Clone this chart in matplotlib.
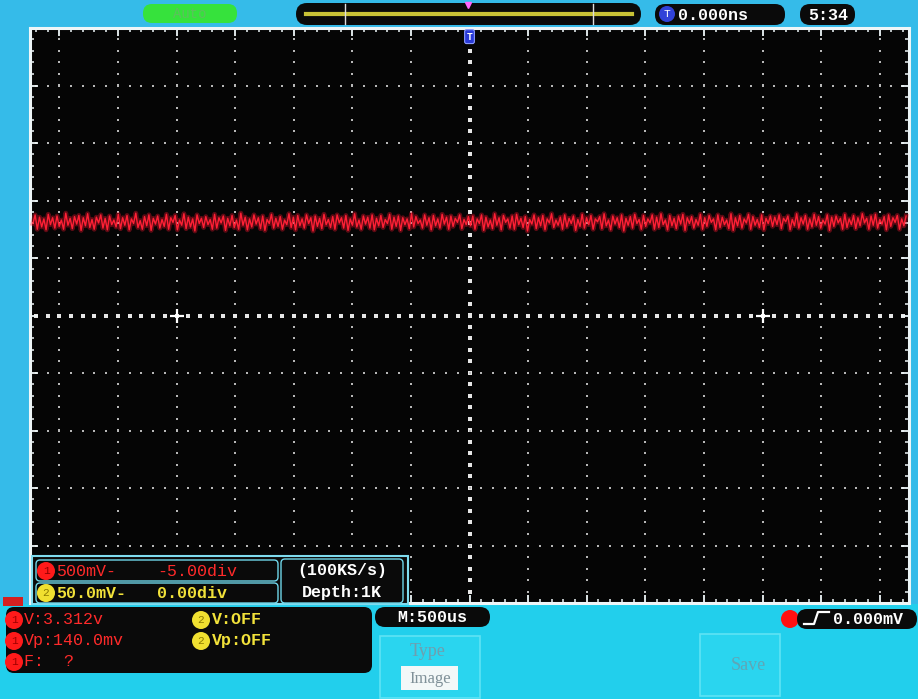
import matplotlib
matplotlib.use('Agg')
import matplotlib.pyplot as plt
from matplotlib.patches import FancyBboxPatch, Rectangle, Circle
import numpy as np

# CH1 trace, hundredths of a division above screen centre, read left to right
ch1_trace = [
    160, 175, 150, 171, 154, 168, 149, 176, 158, 170, 152, 173, 155, 166, 150, 178, 157, 169, 151, 172,
    159, 174, 148, 170, 156, 177, 153, 167, 150, 171, 161, 175, 152, 169, 149, 173, 158, 166, 154, 176,
    151, 170, 157, 174, 149, 168, 160, 178, 153, 165, 150, 172, 156, 175, 148, 169, 159, 173, 152, 167,
    155, 176, 150, 170, 162, 174, 149, 166, 157, 177, 151, 171, 154, 168, 147, 175, 160, 169, 153, 172,
    158, 167, 150, 176, 152, 170, 161, 173, 148, 169, 156, 174, 153, 166, 150, 178, 157, 171, 149, 168,
    154, 175, 159, 170, 151, 173, 148, 167, 160, 176, 152, 169, 155, 172, 150, 166, 158, 177, 153, 171,
    149, 174, 156, 168, 152, 175, 160, 170, 147, 173, 155, 169, 151, 176, 158, 167, 153, 172, 150, 175,
    161, 170, 152, 174, 148, 168, 157, 177, 154, 166, 150, 173, 159, 171, 152, 175, 149, 169, 156, 174,
    153, 167, 160, 176, 150, 171, 155, 173, 148, 170, 158, 168, 151, 177, 154, 172, 160, 166, 152, 175,
    157, 170, 149, 174, 156, 168, 152, 176, 159, 171, 150, 173, 155, 169, 162, 175, 151, 167, 158, 172,
    156, 173, 150, 168, 160, 175, 148, 171, 154, 166, 151, 177, 157, 170, 149, 174, 162, 168, 152, 173,
    150, 176, 158, 169, 153, 172, 147, 167, 159, 175, 151, 170, 156, 174, 149, 168, 161, 177, 153, 166,
    157, 171, 150, 175, 154, 169, 160, 173, 148, 167, 155, 176, 152, 170, 158, 174, 150, 168, 163, 172,
    151, 177, 156, 166, 149, 173, 159, 170, 153, 175, 147, 169, 157, 172, 152, 176, 160, 167, 150, 174,
    155, 168, 161, 175, 150, 171, 153, 177, 158, 166, 149, 174, 156, 169, 151, 173, 159, 176, 148, 170,
    160, 172, 152, 167, 157, 176, 150, 170, 155, 174, 162, 168, 149, 175, 153, 171, 158, 166, 151, 177,
    148, 170, 156, 174, 152, 168, 161, 176, 150, 172, 157, 167, 153, 175, 149, 169, 160, 173, 155, 171,
    158, 175, 151, 169, 163, 173, 149, 167, 156, 177, 152, 170, 159, 174, 150, 168, 154, 176, 157, 172,
    152, 166, 159, 175, 148, 171, 155, 173, 161, 169, 150, 176, 153, 168, 158, 174, 151, 170, 156, 177,
    161, 169, 150, 173, 157, 176, 152, 167, 159, 172, 149, 175, 155, 170, 162, 174, 150, 168, 156, 173,
]

h_half = 7.5          # screen is 15 divisions wide
v_half = 5            # and 10 divisions tall
markers_x = [-5, 5]   # the two "+" marks on the centre line

mode = 'Auto'
trig_time = '0.000ns'
clock = '5:34'
ch1_scale, ch1_offset = '500mV-', '-5.00div'
ch2_scale, ch2_offset = '50.0mV-', '0.00div'
sample_rate = '(100KS/s)'
depth = 'Depth:1K'
ch1_meas = ['V:3.312v', 'Vp:140.0mv', 'F:  ?']
ch2_meas = ['V:OFF', 'Vp:OFF']
timebase = 'M:500us'
trig_level = '0.000mV'

W, H = 918, 699
mono = 'Liberation Mono'
red = '#ff2a2a'
yel = '#f2e23a'

fig = plt.figure(figsize=(W / 100, H / 100), dpi=100)
fig.patch.set_facecolor('#35bbe9')

# background layer in pixel coords
bg = fig.add_axes([0, 0, 1, 1], zorder=0)
bg.set_xlim(0, W); bg.set_ylim(H, 0); bg.axis('off')
bg.add_patch(Rectangle((0, 604), W, H - 604, fc='#22cfec', ec='none'))

# scope screen
L, R, T, B = 30, 909, 28, 603
ax = fig.add_axes([L / W, 1 - B / H, (R - L) / W, (B - T) / H], zorder=2)
ax.set_facecolor('#050505')
ax.set_xlim(-h_half, h_half)
ax.set_ylim(-v_half, v_half)
for s in ax.spines.values():
    s.set_color('#eef6f8')
    s.set_linewidth(2.2)
ax.set_xticks(np.arange(-7, 8))
ax.set_xticks(np.arange(-7.4, 7.41, 0.2), minor=True)
ax.set_yticks(np.arange(-4, 5))
ax.set_yticks(np.arange(-4.8, 4.81, 0.2), minor=True)
ax.tick_params(which='both', direction='in', top=True, right=True, bottom=True, left=True,
               labelbottom=False, labelleft=False, color='#eef6f8')
ax.tick_params(which='major', length=6, width=1.3)
ax.tick_params(which='minor', length=3, width=1.1)

# dotted graticule
dot_pos_x = np.arange(-7.4, 7.41, 0.2)
dot_pos_y = np.arange(-4.8, 4.81, 0.2)
for k in range(-7, 8):
    big = k == 0
    ax.scatter(np.full(dot_pos_y.size, k), dot_pos_y, s=7 if big else 2, marker='s',
               color='#e6e6e6' if big else '#b8b8b8', lw=0, zorder=1)
for k in range(-4, 5):
    big = k == 0
    ax.scatter(dot_pos_x, np.full(dot_pos_x.size, k), s=7 if big else 2, marker='s',
               color='#e6e6e6' if big else '#b8b8b8', lw=0, zorder=1)
ax.scatter(markers_x, [0, 0], marker='+', s=110, color='white', lw=1.6, zorder=2)

# trace
tx = np.linspace(-h_half + 0.05, h_half - 0.05, len(ch1_trace))
ty = np.array(ch1_trace) / 100
ax.plot(tx, ty, color='#ff1530', lw=3.5, alpha=0.35, zorder=3)
ax.plot(tx, ty, color='#ff2035', lw=1.0, zorder=4)

# trigger position marker
ax.text(0, v_half - 0.15, 'T', ha='center', va='center', color='white', fontsize=7,
        fontweight='bold', family=mono,
        bbox=dict(boxstyle='round,pad=0.2', fc='#2a3ad8', ec='#8c9cff', lw=0.8), zorder=5)

# foreground UI layer
fg = fig.add_axes([0, 0, 1, 1], zorder=3)
fg.set_xlim(0, W); fg.set_ylim(H, 0); fg.axis('off')
fg.patch.set_alpha(0)


def pill(x, y, w, h, fc='#0a0a0a', ec='none', r=9, lw=1):
    fg.add_patch(FancyBboxPatch((x, y), w, h, boxstyle=f'round,pad=0,rounding_size={r}',
                                fc=fc, ec=ec, lw=lw))


def txt(x, y, s, c='white', size=12, ha='left', weight='bold', fam=mono):
    fg.text(x, y, s, color=c, fontsize=size, ha=ha, va='center', fontweight=weight, family=fam)


def badge(x, y, label, fc, tc, r=9):
    fg.add_patch(Circle((x, y), r, fc=fc, ec='none'))
    fg.text(x, y, label, color=tc, fontsize=8, ha='center', va='center', family=mono)


# top bar
pill(143, 4, 94, 19, fc='#36e23c', r=9)
txt(190, 14, mode, c='#5cc15c', size=10, ha='center', weight='normal')
pill(296, 3, 345, 22, r=11)
fg.plot([306, 632], [14, 14], color='#c9c236', lw=3)
fg.plot([345, 345], [4, 24], color='#dddddd', lw=1)
fg.plot([593, 593], [4, 24], color='#dddddd', lw=1)
fg.plot([468], [5], marker='v', color='#ff66ff', ms=4)
pill(655, 4, 130, 21, r=10)
badge(667, 14, 'T', '#3142d8', 'white', r=8)
txt(678, 15, trig_time, size=12)
pill(800, 4, 55, 21, r=10)
txt(828, 15, clock, size=12, ha='center')

# channel settings panel
fg.add_patch(Rectangle((32, 556), 376, 48, fc='#0a0a0a', ec='#7fdcef', lw=1.5))
pill(36, 560, 242, 21, ec='#6fd6ea', r=4)
pill(36, 583, 242, 20, ec='#6fd6ea', r=4)
pill(281, 559, 122, 44, ec='#6fd6ea', r=4)
badge(46, 571, '1', '#ff1a1a', '#900000')
txt(56, 571, ch1_scale, c=red, weight='normal')
txt(157, 571, ch1_offset, c=red, weight='normal')
badge(46, 593, '2', '#f0e030', '#8a7a00')
txt(56, 593, ch2_scale, c=yel)
txt(157, 593, ch2_offset, c=yel)
txt(342, 571, sample_rate, ha='center')
txt(342, 593, depth, ha='center')

# ch1 ground marker
fg.add_patch(Rectangle((3, 597), 20, 9, fc='#d42020', ec='none'))

# measurement panel
pill(6, 607, 366, 66, r=8)
for i, s in enumerate(ch1_meas):
    yy = 620 + i * 21
    badge(14, yy, '1', '#ff1a1a', '#a00000')
    txt(24, yy, s, c=red, weight='normal')
for i, s in enumerate(ch2_meas):
    yy = 620 + i * 21
    badge(201, yy, '2', '#f0e030', '#8a7a00')
    txt(212, yy, s, c=yel)

# timebase and trigger
pill(375, 607, 115, 20, r=10)
txt(432, 617, timebase, ha='center')
fg.add_patch(Circle((790, 619), 9, fc='#ff1010', ec='none'))
pill(797, 609, 120, 20, r=10)
fg.plot([804, 814, 818, 829], [624, 624, 612, 612], color='white', lw=1.6)
txt(833, 619, trig_level, size=12)

# soft buttons
fg.add_patch(Rectangle((380, 636), 100, 62, fc='#2ad5ef', ec='#5fe3f4', lw=1.2))
txt(428, 652, 'Type', c='#6f9eae', size=13, ha='center', weight='normal', fam='Liberation Serif')
fg.add_patch(Rectangle((401, 666), 57, 24, fc='#f3f8f8', ec='none'))
txt(430, 679, 'Image', c='#7f9098', size=12, ha='center', weight='normal', fam='Liberation Serif')
fg.add_patch(Rectangle((700, 634), 80, 62, fc='#2ad5ef', ec='#5fe3f4', lw=1.2))
txt(748, 665, 'Save', c='#5fa6b6', size=13, ha='center', weight='normal', fam='Liberation Serif')

fig.savefig('out.png', dpi=100, facecolor=fig.get_facecolor())
